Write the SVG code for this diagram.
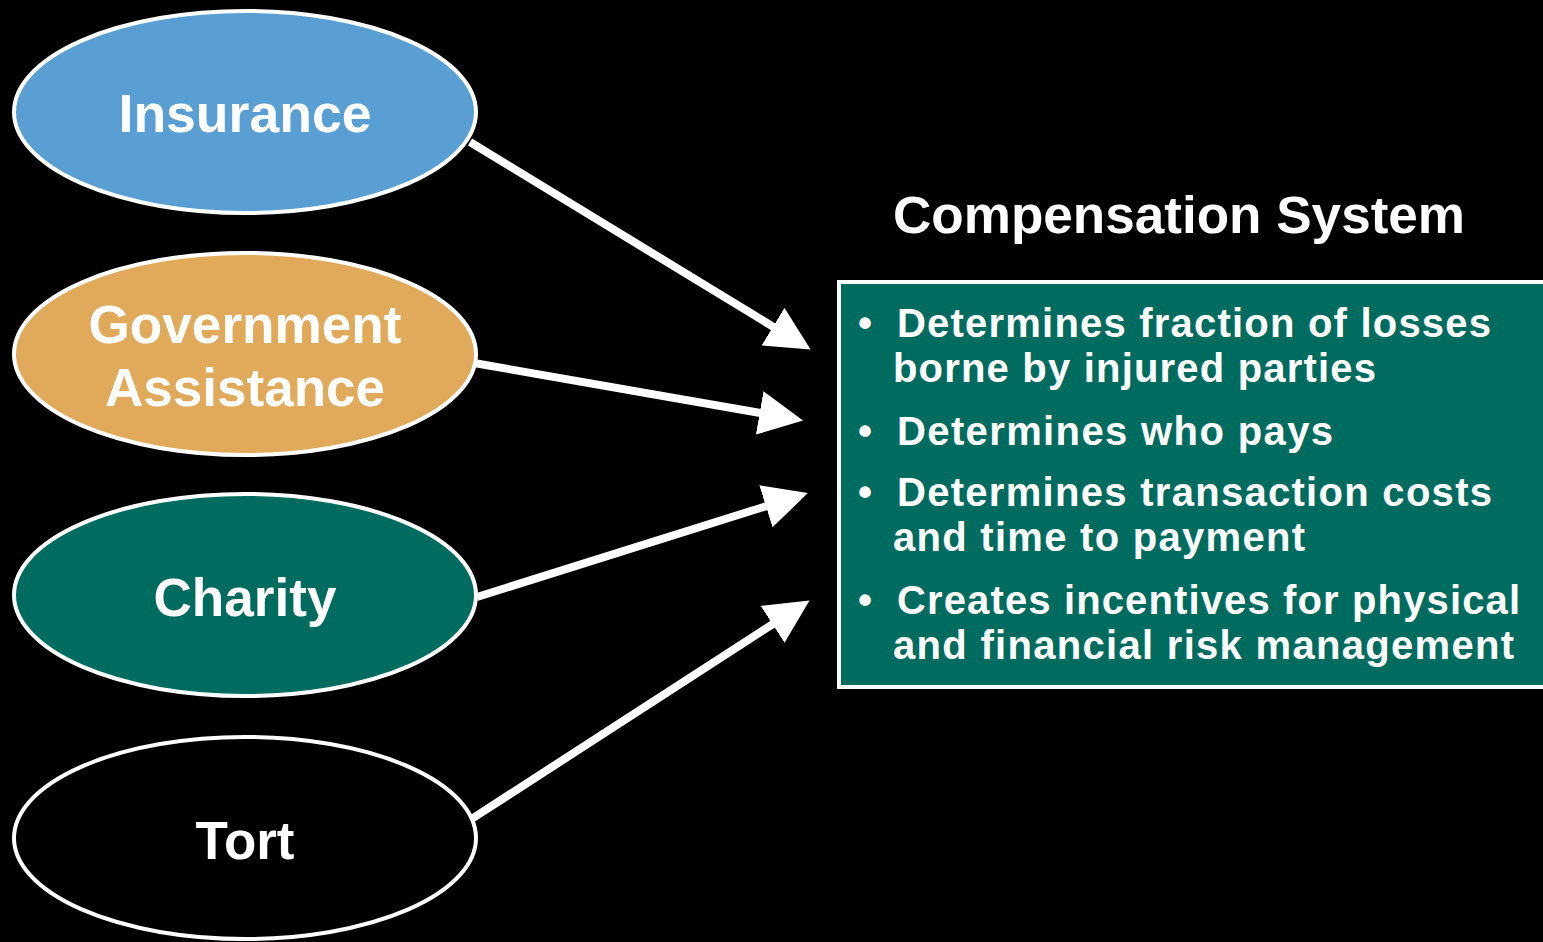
<svg xmlns="http://www.w3.org/2000/svg" width="1543" height="942" viewBox="0 0 1543 942">
<style>
.node{stroke:#fff;stroke-width:4}
.lbl{font-family:"Liberation Sans",Arial,sans-serif;font-weight:bold;fill:#fff;text-anchor:middle}
.nl{font-size:53px}
.bt{font-family:"Liberation Sans",Arial,sans-serif;font-weight:bold;fill:#fff;font-size:40px}
.conn{stroke:#fff;stroke-width:8;fill:none;marker-end:url(#ah)}
</style>
<defs>
<marker id="ah" markerUnits="userSpaceOnUse" markerWidth="44" markerHeight="44" viewBox="0 0 40 40" refX="10" refY="20" orient="auto">
<path d="M0,0 L40,20 L0,40 z" fill="#fff"/>
</marker>
</defs>
<rect width="1543" height="942" fill="#000"/>
<g id="connectors">
<line class="conn" x1="470" y1="142" x2="782.4" y2="332.4"/>
<line class="conn" x1="474" y1="363" x2="770.5" y2="414.8"/>
<line class="conn" x1="477" y1="597" x2="776.4" y2="503"/>
<line class="conn" x1="470" y1="820" x2="781.8" y2="618.3"/>
</g>
<g id="insurance">
<ellipse class="node" cx="245" cy="112" rx="231" ry="101" fill="#599FD3"/>
<text class="lbl nl" x="245" y="132" textLength="253" lengthAdjust="spacingAndGlyphs">Insurance</text>
</g>
<g id="government">
<ellipse class="node" cx="245" cy="354" rx="231" ry="101" fill="#E1A95A"/>
<text class="lbl nl" x="245" y="343" textLength="313" lengthAdjust="spacingAndGlyphs">Government</text>
<text class="lbl nl" x="245" y="406" textLength="280" lengthAdjust="spacingAndGlyphs">Assistance</text>
</g>
<g id="charity">
<ellipse class="node" cx="245" cy="595" rx="231" ry="101" fill="#006B5F"/>
<text class="lbl nl" x="245" y="616" textLength="183" lengthAdjust="spacingAndGlyphs">Charity</text>
</g>
<g id="tort">
<ellipse class="node" cx="245" cy="838" rx="231" ry="101" fill="#000"/>
<text class="lbl nl" x="245" y="859" textLength="99" lengthAdjust="spacingAndGlyphs">Tort</text>
</g>
<g id="compensation">
<text class="lbl" x="1179" y="233" font-size="51" textLength="572" lengthAdjust="spacingAndGlyphs">Compensation System</text>
<rect class="node" x="839" y="282" width="710" height="405" fill="#006B5F"/>
<text class="bt" x="858" y="337">•</text>
<text class="bt" x="897" y="337" textLength="594" lengthAdjust="spacing">Determines fraction of losses</text>
<text class="bt" x="893" y="382" textLength="483" lengthAdjust="spacing">borne by injured parties</text>
<text class="bt" x="858" y="445">•</text>
<text class="bt" x="897" y="445" textLength="436" lengthAdjust="spacing">Determines who pays</text>
<text class="bt" x="858" y="506">•</text>
<text class="bt" x="897" y="506" textLength="595" lengthAdjust="spacing">Determines transaction costs</text>
<text class="bt" x="893" y="551" textLength="412" lengthAdjust="spacing">and time to payment</text>
<text class="bt" x="858" y="614">•</text>
<text class="bt" x="897" y="614" textLength="623" lengthAdjust="spacing">Creates incentives for physical</text>
<text class="bt" x="893" y="659" textLength="621" lengthAdjust="spacing">and financial risk management</text>
</g>
</svg>
